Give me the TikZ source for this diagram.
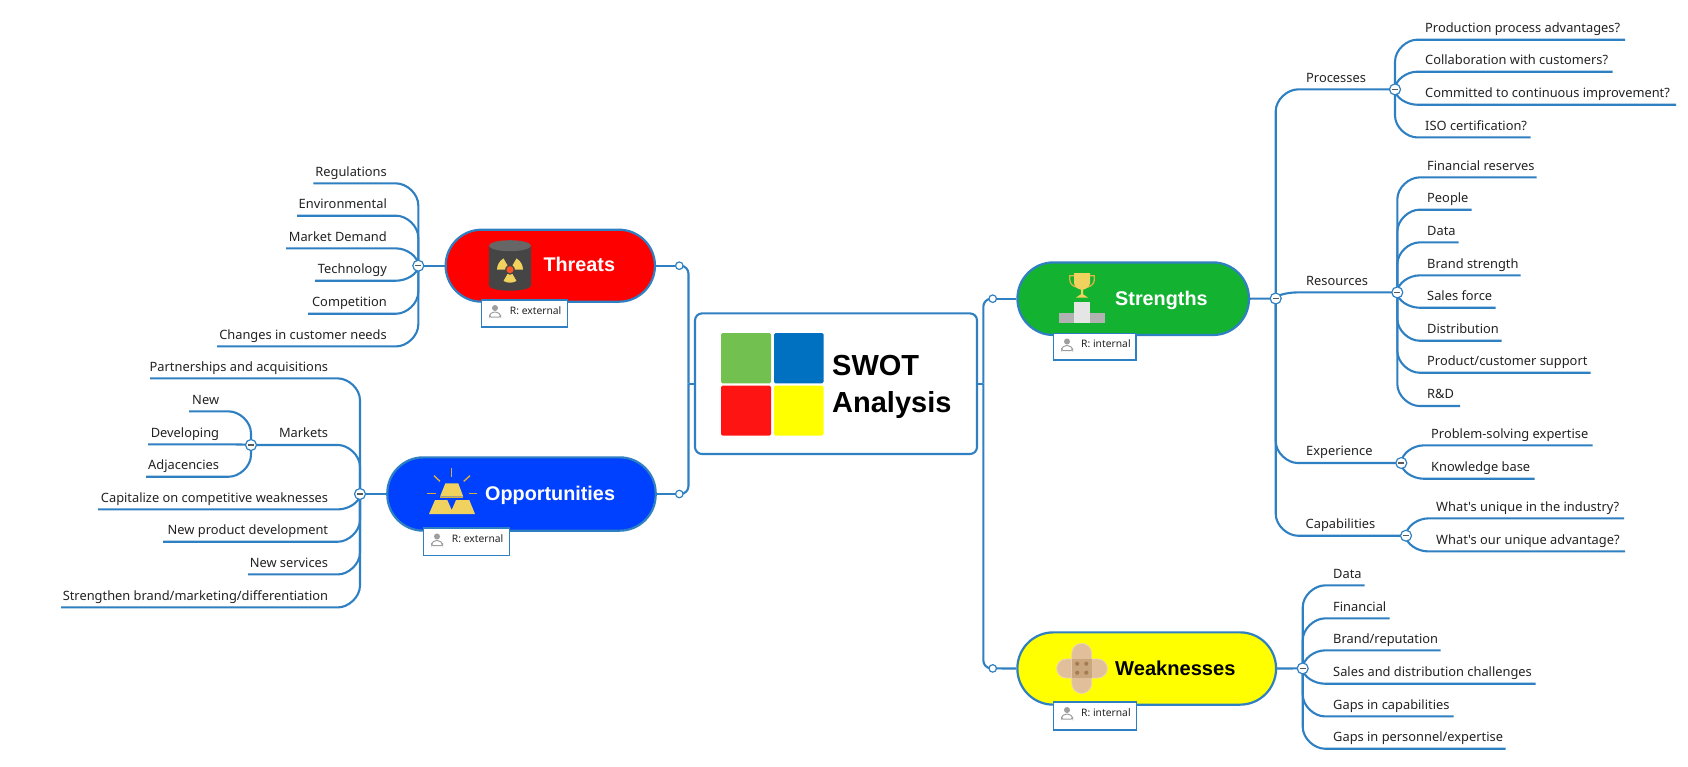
\documentclass[tikz,border=0pt]{standalone}
\usepackage{fontspec}
\setmainfont{Noto Sans}[Ligatures=TeXOff]
\newfontfamily\headfont{Liberation Sans}
\definecolor{wire}{HTML}{2F80C2}
\definecolor{ink}{HTML}{222222}
\definecolor{gold}{HTML}{F1D25E}
\definecolor{golddark}{HTML}{D8AE3A}
\definecolor{plaster}{HTML}{E0BF9A}
\definecolor{plasterdark}{HTML}{C9A67E}
\definecolor{plasterdot}{HTML}{A87C52}
\definecolor{tgreen}{HTML}{72C04F}
\definecolor{tblue}{HTML}{0070C0}
\definecolor{tred}{HTML}{FF1414}
\definecolor{tyellow}{HTML}{FFFF00}
\definecolor{sgreen}{HTML}{14B231}
\definecolor{oblue}{HTML}{0040FF}
\tikzset{
  conn/.style={draw=wire,line width=2.1pt},
  pill/.style={draw=wire,line width=2.2pt,rounded corners=36pt,inner sep=0pt},
  pilltext/.style={font=\headfont\bfseries\fontsize{19.8}{22}\selectfont,inner sep=0pt,anchor=base west},
  tagbox/.style={draw=wire,line width=1.1pt,fill=white,inner sep=0pt},
  tagtext/.style={font=\fontsize{10.3}{12}\selectfont,text=ink,inner sep=0pt,anchor=west},
  leaftext/.style={font=\fontsize{12.85}{15}\selectfont,text=ink,inner sep=0pt},
  tile/.style={rounded corners=1.5pt},
  swot/.style={font=\headfont\bfseries\fontsize{29}{32}\selectfont,text=black,inner sep=0pt,anchor=base west},
  hubmark/.style={circle,draw=wire,line width=1.2pt,fill=white,minimum size=11pt,inner sep=0pt,
    path picture={\draw[line width=1.3pt,draw=ink!75] ([xshift=-3pt]path picture bounding box.center)--([xshift=3pt]path picture bounding box.center);}},
  joint/.style={circle,draw=wire,line width=1.2pt,fill=white,minimum size=7.5pt,inner sep=0pt},
}
\newcommand\hubat[3]{\expandafter\def\csname hx#1\endcsname{#2}\expandafter\def\csname hy#1\endcsname{#3}\coordinate (#1) at (#2,#3);}
\newcommand\hubwire[4]{%
  \pgfmathsetmacro\hxv{\csname hx#1\endcsname}%
  \pgfmathsetmacro\hyv{\csname hy#1\endcsname}%
  \pgfmathsetmacro\hsg{(#3>=\hyv)?1:-1}%
  \pgfmathsetmacro\hd{min(abs(#3-\hyv),22)}%
  \pgfmathsetmacro\hmy{#3-\hsg*\hd}%
  \pgfmathsetmacro\hcy{#3-\hsg*\hd*0.45}%
  \pgfmathsetmacro\hcx{\hxv+#2*12}%
  \pgfmathsetmacro\hex{\hxv+#2*22}%
  \draw[conn] (#1) -- (\hxv,\hmy) .. controls (\hxv,\hcy) and (\hcx,#3) .. (\hex,#3) -- (#4);}
\newcommand\rleaf[6]{%
  \coordinate (#1-end) at (#5,#4);
  \node[leaftext,anchor=base west] (#1) at (#3,#4-7.2) {#6};
  \hubwire{#2}{1}{#4}{#1-end}}
\newcommand\lleaf[6]{%
  \coordinate (#1-end) at (#5,#4);
  \node[leaftext,anchor=base east] (#1) at (#3,#4-7.2) {#6};
  \hubwire{#2}{-1}{#4}{#1-end}}
\newcommand\personicon[2]{%
  \begin{scope}[shift={(#1,#2)}]
    \fill[black!38] (0,-3.2) circle (3);
    \draw[black!38,line width=1pt,fill=white,rounded corners=1.5pt] (-5.5,6) -- (-5.5,3.6) -- (-2.5,1) -- (2.5,1) -- (5.5,3.6) -- (5.5,6) -- cycle;
  \end{scope}}
\begin{document}
\begin{tikzpicture}[x=1pt,y=-1pt]
\useasboundingbox (0,-0.7) rectangle (1688,765.3);
\hubat{hT}{418.3}{265}
\hubat{hO}{360}{493.3}
\hubat{hM}{251}{444.3}
\hubat{hS}{1275.7}{297.8}
\hubat{hP}{1395}{88.7}
\hubat{hR}{1397.3}{291.7}
\hubat{hE}{1401.3}{462.3}
\hubat{hC}{1406}{535}
\hubat{hW}{1302.7}{667.7}
\coordinate (jT) at (679.3,265);
\coordinate (jO) at (679.3,493.3);
\coordinate (jS) at (992.7,298);
\coordinate (jW) at (992.7,667.7);
\coordinate (bl) at (688.5,383);
\coordinate (br) at (983.3,383);
% central node
\node[draw=wire,line width=2.1pt,rounded corners=7pt,fill=white,minimum width=282pt,minimum height=140.6pt,inner sep=0pt] (main) at (836,383) {};
\fill[tile,fill=tgreen] (721,332.3) rectangle (771,382.7);
\fill[tile,fill=tblue] (774,332.3) rectangle (823.5,382.7);
\fill[tile,fill=tred] (721,385) rectangle (771,435);
\fill[tile,fill=tyellow] (774,385) rectangle (823.5,435);
\node[swot] (swot1) at (832,375) {SWOT};
\node[swot] (swot2) at (832,411.7) {Analysis};
% trunk connectors
\draw[conn] (main.west) -- (bl);
\draw[conn] (main.east) -- (br);
\draw[conn,rounded corners=8pt] (bl) |- (jT);
\draw[conn,rounded corners=8pt] (bl) |- (jO);
\draw[conn,rounded corners=8pt] (br) |- (jS);
\draw[conn,rounded corners=8pt] (br) |- (jW);
% Threats branch
\lleaf{t1}{hT}{387}{182.7}{313.3}{Regulations}
\lleaf{t2}{hT}{387}{215}{297}{Environmental}
\lleaf{t3}{hT}{387}{247.7}{286}{Market Demand}
\lleaf{t4}{hT}{387}{280}{315}{Technology}
\lleaf{t5}{hT}{387}{313}{308}{Competition}
\lleaf{t6}{hT}{387}{345.7}{217}{Changes in customer needs}
% Opportunities branch
\lleaf{o1}{hO}{328.3}{377.7}{150}{Partnerships and acquisitions}
\node[leaftext,anchor=base east] (o2) at (328.3,437.1) {Markets};
\hubwire{hO}{-1}{444.3}{hM}
\lleaf{m1}{hM}{219.3}{410.7}{189}{New}
\lleaf{m2}{hM}{219.3}{443.7}{148}{Developing}
\lleaf{m3}{hM}{219.3}{476}{146}{Adjacencies}
\lleaf{o3}{hO}{328.3}{508.7}{98}{Capitalize on competitive weaknesses}
\lleaf{o4}{hO}{328.3}{541}{163}{New product development}
\lleaf{o5}{hO}{328.3}{573.7}{248}{New services}
\lleaf{o6}{hO}{328.3}{606.7}{61}{Strengthen brand/marketing/differentiation}
% Strengths branch
\node[leaftext,anchor=base west] (s1) at (1306,81.5) {Processes};
\hubwire{hS}{1}{88.7}{hP}
\node[leaftext,anchor=base west] (s2) at (1306,284.5) {Resources};
\hubwire{hS}{1}{291.7}{hR}
\node[leaftext,anchor=base west] (s3) at (1306,455.1) {Experience};
\hubwire{hS}{1}{462.3}{hE}
\node[leaftext,anchor=base west] (s4) at (1305.5,527.8) {Capabilities};
\hubwire{hS}{1}{535}{hC}
\rleaf{p1}{hP}{1425}{39}{1625}{Production process advantages?}
\rleaf{p2}{hP}{1425}{71}{1612.7}{Collaboration with customers?}
\rleaf{p3}{hP}{1425}{104}{1676}{Committed to continuous improvement?}
\rleaf{p4}{hP}{1425}{136.7}{1530.7}{ISO certification?}
\rleaf{r1}{hR}{1427}{176.7}{1536.7}{Financial reserves}
\rleaf{r2}{hR}{1427}{209}{1471.7}{People}
\rleaf{r3}{hR}{1427}{241.7}{1458.7}{Data}
\rleaf{r4}{hR}{1427}{274.7}{1520.7}{Brand strength}
\rleaf{r5}{hR}{1427}{307}{1495.7}{Sales force}
\rleaf{r6}{hR}{1427}{340}{1501.7}{Distribution}
\rleaf{r7}{hR}{1427}{372}{1590.7}{Product/customer support}
\rleaf{r8}{hR}{1427}{405.3}{1460}{R\&D}
\rleaf{e1}{hE}{1431}{444.7}{1592.7}{Problem-solving expertise}
\rleaf{e2}{hE}{1431}{478}{1534.7}{Knowledge base}
\rleaf{c1}{hC}{1436}{517.7}{1624}{What's unique in the industry?}
\rleaf{c2}{hC}{1436}{550.7}{1625}{What's our unique advantage?}
% Weaknesses branch
\rleaf{w1}{hW}{1333}{584.7}{1364.7}{Data}
\rleaf{w2}{hW}{1333}{617.7}{1389.7}{Financial}
\rleaf{w3}{hW}{1333}{649.7}{1440.7}{Brand/reputation}
\rleaf{w4}{hW}{1333}{683}{1535.7}{Sales and distribution challenges}
\rleaf{w5}{hW}{1333}{715.7}{1453.7}{Gaps in capabilities}
\rleaf{w6}{hW}{1333}{748}{1505.7}{Gaps in personnel/expertise}
% pills
\node[pill,fill=red,minimum width=209.3pt,minimum height=72pt] (threats) at (550.3,265) {};
\node[pill,fill=oblue,minimum width=268.4pt,minimum height=73.3pt] (opps) at (521.5,493.3) {};
\node[pill,fill=sgreen,minimum width=231.5pt,minimum height=72.6pt] (strengths) at (1133.2,298) {};
\node[pill,fill=tyellow,minimum width=258.7pt,minimum height=72.3pt] (weak) at (1146.7,667.8) {};
\draw[conn] (threats.west) -- (hT);
\draw[conn] (threats.east) -- (jT);
\draw[conn] (opps.west) -- (hO);
\draw[conn] (opps.east) -- (jO);
\draw[conn] (strengths.west) -- (jS);
\draw[conn] (strengths.east) -- (hS);
\draw[conn] (weak.west) -- (jW);
\draw[conn] (weak.east) -- (hW);
\node[pilltext,text=white] (threatsl) at (543.3,271) {Threats};
\node[pilltext,text=white] (oppsl) at (485,500) {Opportunities};
\node[pilltext,text=white] (strengthsl) at (1115,304.5) {Strengths};
\node[pilltext,text=black,font=\headfont\bfseries\fontsize{20.1}{22}\selectfont] (weakl) at (1115,674.5) {Weaknesses};
% barrel icon
\fill[black!73] (489,245) -- (489,285) arc[start angle=180,end angle=360,x radius=21,y radius=-5] -- (531,245) -- cycle;
\fill[black!60] (510,245) ellipse (21 and 5.5);
\begin{scope}[shift={(510,269)},y=1pt]
  \foreach \a in {30,150,270}{
    \fill[gold] (\a-30:5) -- (\a-30:13) arc[start angle=\a-30,end angle=\a+30,radius=13] -- (\a+30:5) arc[start angle=\a+30,end angle=\a-30,radius=5] -- cycle;
  }
  \fill[red!60!orange!85!white] (0,0) circle (3.5);
\end{scope}
% gold bars icon
\begin{scope}[draw=golddark,line width=1.4pt]
  \draw (451.7,467.7) -- (451.7,476);
  \draw (434,475) -- (440,480.7);
  \draw (470,475) -- (463.7,480.7);
  \draw (426.7,492.7) -- (435.7,492.7);
  \draw (469,492.7) -- (477.3,492.7);
\end{scope}
\fill[gold] (445.3,482.7) -- (458.3,482.7) -- (463.3,496) -- (440,496) -- cycle;
\fill[golddark] (440,496) rectangle (463.3,497.6);
\fill[gold] (429,513.3) -- (435,499.3) -- (447.3,499.3) -- (451.7,509.3) -- (456,499.3) -- (469.3,499.3) -- (475,513.3) -- cycle;
% trophy icon
\draw[golddark!85!gold,line width=1.3pt] (1074.5,275) -- (1069.8,275) -- (1069.8,279) .. controls (1069.8,283) and (1073,285.5) .. (1076.5,286.5);
\draw[golddark!85!gold,line width=1.3pt] (1089.5,275) -- (1094.3,275) -- (1094.3,279) .. controls (1094.3,283) and (1091,285.5) .. (1087.5,286.5);
\fill[gold] (1074,272.5) -- (1090,272.5) -- (1090,282) .. controls (1090,286) and (1086,288.5) .. (1083,289) -- (1083,293.5) -- (1088,296.8) -- (1076,296.8) -- (1081,293.5) -- (1081,289) .. controls (1078,288.5) and (1074,286) .. (1074,282) -- cycle;
\fill[black!30] (1059,312) rectangle (1105,322.7);
\fill[black!10] (1074,301) rectangle (1089.5,322.7);
% plaster icon
\draw[plaster!65!white,line width=.8pt,fill=plaster,rounded corners=9.5pt] (1056.7,658.3) rectangle (1107.3,677.3);
\draw[plaster!65!white,line width=.8pt,fill=plaster,rounded corners=10pt] (1071.7,642.7) rectangle (1091.7,692.7);
\fill[plasterdark] (1071.7,658.3) rectangle (1091.7,677.3);
\foreach \dx in {1077.2,1086.3}{\foreach \dy in {663,672}{\fill[plasterdot] (\dx,\dy) circle (2.1);}}
% tags
\node[tagbox,minimum width=86pt,minimum height=27pt] (tagT) at (524.3,312.8) {};
\personicon{495}{310.5}
\node[tagtext] (tagTt) at (509.7,309.5) {R: external};
\node[tagbox,minimum width=86pt,minimum height=27.4pt] (tagO) at (466.3,541) {};
\personicon{437}{539}
\node[tagtext] (tagOt) at (451.7,538) {R: external};
\node[tagbox,minimum width=82.5pt,minimum height=26.6pt] (tagS) at (1094.7,346) {};
\personicon{1067}{344}
\node[tagtext] (tagSt) at (1081,342.7) {R: internal};
\node[tagbox,minimum width=83.4pt,minimum height=28pt] (tagW) at (1095,715.3) {};
\personicon{1067}{712.5}
\node[tagtext] (tagWt) at (1081,711.5) {R: internal};
% hub marks
\foreach \h in {hT,hO,hM,hS,hP,hR,hE,hC,hW}{\node[hubmark] (\h-mark) at (\h) {};}
\foreach \j in {jT,jO,jS,jW}{\node[joint] (\j-mark) at (\j) {};}
\end{tikzpicture}
\end{document}
